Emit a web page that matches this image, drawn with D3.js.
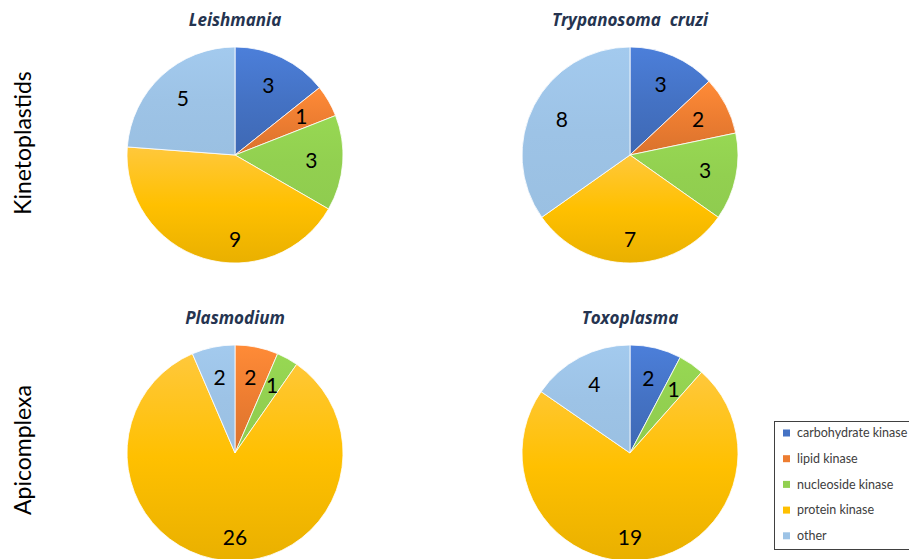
<!DOCTYPE html>
<html>
<head>
<meta charset="utf-8">
<script src="https://cdn.jsdelivr.net/npm/d3@7"></script>
<style>
  body { margin: 0; background: #fff; }
  svg { display: block; font-family: Lato, "Open Sans", sans-serif; }
</style>
</head>
<body>
<div id="my_dataviz"></div>
<script>
// data
var categories = ["carbohydrate kinase", "lipid kinase", "nucleoside kinase", "protein kinase", "other"];
var groups = ["Kinetoplastids", "Apicomplexa"];
var organisms = ["Leishmania", "Trypanosoma  cruzi", "Plasmodium", "Toxoplasma"];
var leishmania = [3, 1, 3, 9, 5];
var tcruzi = [3, 2, 3, 7, 8];
var plasmodium = [0, 2, 1, 26, 2];
var toxoplasma = [2, 0, 1, 19, 4];

var values = [leishmania, tcruzi, plasmodium, toxoplasma];

var width = 909, height = 559, radius = 108;

var svg = d3.select("#my_dataviz")
    .append("svg")
    .attr("width", width)
    .attr("height", height);

var baseColors = ["#4472C4", "#ED7D31", "#92D050", "#FFC000", "#9DC3E6"];
var color = d3.scaleOrdinal().domain(categories).range(baseColors);

// vertical gradient per slice: lighter at top, darker at bottom
var defs = svg.append("defs");
categories.forEach(function (c, i) {
    var base = d3.color(baseColors[i]);
    var g = defs.append("linearGradient")
        .attr("id", "grad" + i)
        .attr("x1", 0).attr("y1", 0).attr("x2", 0).attr("y2", 1);
    var flat = (i == 2 || i == 4);
    var top = i == 3 ? "#FFC83C" : (flat ? base.brighter(0.1) : base.brighter(0.3));
    g.append("stop").attr("offset", "0%").attr("stop-color", top);
    g.append("stop").attr("offset", "50%").attr("stop-color", base);
    g.append("stop").attr("offset", "100%").attr("stop-color", flat ? base.darker(0.05) : base.darker(0.25));
});

var xPos = d3.scalePoint().domain([0, 1]).range([235, 630]);
var yPos = d3.scalePoint().domain(groups).range([155, 453]);

var pie = d3.pie().sort(null).value(function (d) { return d; });
var arc = d3.arc().innerRadius(0).outerRadius(radius);

values.forEach(function (vals, k) {
    var col = k % 2, row = groups[Math.floor(k / 2)];
    var cx = xPos(col), cy = yPos(row);

    var g = svg.append("g")
        .attr("transform", "translate(" + cx + "," + cy + ")");

    var arcs = pie(vals);

    g.selectAll("path")
        .data(arcs)
        .enter()
        .append("path")
        .attr("d", arc)
        .attr("fill", function (d, i) { return "url(#grad" + i + ")"; })
        .attr("stroke", function (d) { return d.value > 0 ? "#fff" : "none"; })
        .attr("stroke-width", 0.8);

    g.selectAll("text.lbl")
        .data(arcs.filter(function (d) { return d.value > 0; }))
        .enter()
        .append("text")
        .attr("class", "lbl")
        .attr("transform", function (d) {
            var a = (d.startAngle + d.endAngle) / 2;
            var r = radius * 0.71;
            // slice covering the bottom: label sits straight below the centre
            if (d.startAngle < Math.PI && d.endAngle > Math.PI) {
                a = Math.PI;
                r = radius * 0.78;
            }
            return "translate(" + (Math.sin(a) * r) + "," + (-Math.cos(a) * r) + ")";
        })
        .attr("text-anchor", "middle")
        .attr("dy", "0.35em")
        .style("font-size", "21px")
        .style("fill", "#000")
        .text(function (d) { return d.value; });

    svg.append("text")
        .attr("x", cx)
        .attr("y", cy - 129)
        .attr("text-anchor", "middle")
        .style("white-space", "pre")
        .style("font-family", "'Open Sans', sans-serif")
        .style("font-size", "17px")
        .style("font-weight", "bold")
        .style("font-style", "italic")
        .style("fill", "#253450")
        .text(organisms[k]);
});

// row labels
groups.forEach(function (gname, i) {
    svg.append("text")
        .attr("transform", "translate(31," + (yPos(gname) - (i == 0 ? 12 : 3)) + ") rotate(-90)")
        .attr("text-anchor", "middle")
        .style("font-size", "23px")
        .style("fill", "#000")
        .text(gname);
});

// legend
var legend = svg.append("g")
    .attr("class", "legend")
    .attr("transform", "translate(774,421)");

legend.append("rect")
    .attr("x", 0.5).attr("y", 0.5)
    .attr("width", 150).attr("height", 128)
    .attr("fill", "#fff")
    .attr("stroke", "#404040")
    .attr("stroke-width", 1);

categories.forEach(function (d, i) {
    var item = legend.append("g")
        .attr("transform", "translate(0," + (12 + i * 25.7) + ")");

    item.append("rect")
        .attr("x", 9)
        .attr("y", -3.5)
        .attr("width", 7)
        .attr("height", 7)
        .style("fill", color(d));

    item.append("text")
        .attr("x", 23)
        .attr("y", 0)
        .attr("dy", ".35em")
        .style("font-size", "12.5px")
        .style("fill", "#404040")
        .text(d);
});
</script>
</body>
</html>
